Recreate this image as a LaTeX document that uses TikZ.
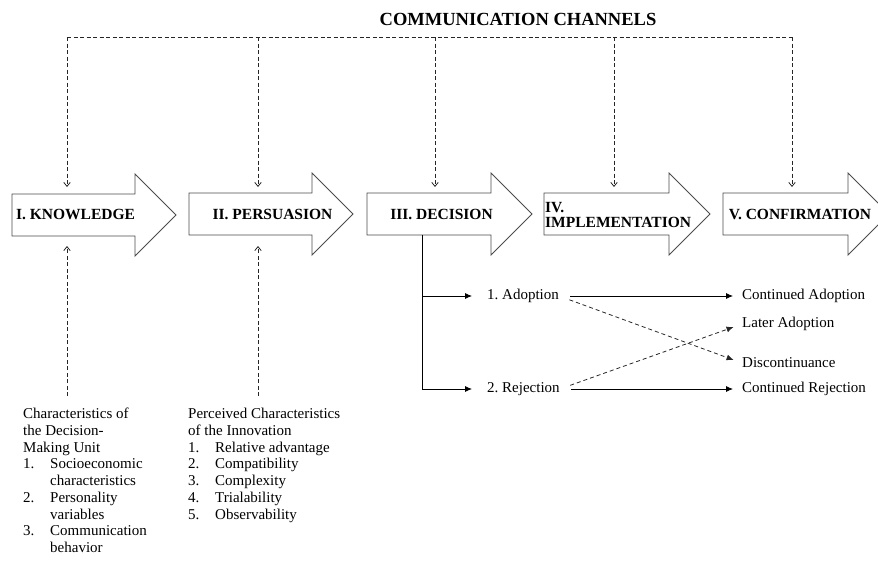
\documentclass[tikz,border=0pt]{standalone}
\usepackage{fontspec}
\setmainfont{Liberation Serif}
\usetikzlibrary{arrows.meta}
\frenchspacing
\newcommand\blockarr[3]{%
  \draw[arrowbox] (#1,#3-21) -- (#2-41,#3-21) -- (#2-41,#3-41) -- (#2,#3)
    -- (#2-41,#3+41) -- (#2-41,#3+21) -- (#1,#3+21) -- cycle;}
\begin{document}
\frenchspacing
\begin{tikzpicture}[x=1pt,y=-1pt,
  arrowbox/.style={draw=black!70, line width=0.9pt, fill=white},
  lbl/.style={font=\fontsize{15.5}{15}\selectfont\bfseries, inner sep=0pt},
  txt/.style={font=\fontsize{15}{16.7}\selectfont, inner sep=0pt},
  chan/.style={draw=black!85, dash pattern=on 4pt off 2.5pt, line width=0.8pt},
  chanarr/.style={chan, -{Straight Barb[length=4pt,width=6.5pt]}},
  flow/.style={draw=black, line width=0.8pt, -{Latex[length=7pt,width=6pt]}},
  alt/.style={draw=black!85, dash pattern=on 4pt off 3pt, line width=0.8pt, -{Latex[length=7pt,width=6pt]}}
]
\useasboundingbox (0,0) rectangle (878,571);

% title
\node[font=\fontsize{18.5}{20}\selectfont\bfseries, inner sep=0pt] (title) at (518,19) {COMMUNICATION CHANNELS};

% stage arrows
\blockarr{12}{176}{215}
\blockarr{189}{353}{214}
\blockarr{367}{532}{214}
\blockarr{544}{710}{214}
\blockarr{723}{889}{214}

\node[lbl] (k) at (75.5,214) {I. KNOWLEDGE};
\node[lbl] (p) at (272.5,214) {II. PERSUASION};
\node[lbl] (d) at (441.5,214) {III. DECISION};
\node[lbl, anchor=west, align=left, font=\fontsize{15.5}{15}\selectfont\bfseries] (im) at (545,214.5) {IV.\\IMPLEMENTATION};
\node[lbl] (cf) at (800,214) {V. CONFIRMATION};

% communication channels
\coordinate (t1) at (67,37);
\coordinate (t2) at (258,37);
\coordinate (t3) at (435,37);
\coordinate (t4) at (614,37);
\coordinate (t5) at (792,37);
\coordinate (e1) at (67,187);
\coordinate (e2) at (258,187);
\coordinate (e3) at (435,187);
\coordinate (e4) at (614,187);
\coordinate (e5) at (792,187);
\draw[chan] (t1) -- (t5);
\foreach \i in {1,...,5}{\draw[chanarr] (t\i) -- (e\i);}

% characteristics inputs
\coordinate (b1) at (67,396);
\coordinate (b2) at (258,396);
\coordinate (u1) at (67,246);
\coordinate (u2) at (258,246);
\draw[chanarr] (b1) -- (u1);
\draw[chanarr] (b2) -- (u2);

\node[txt, anchor=north west] (dmu) at (23,407) {%
\begin{tabular}{@{}p{27pt}@{}l@{}}
\multicolumn{2}{@{}l@{}}{Characteristics of}\\
\multicolumn{2}{@{}l@{}}{the Decision-}\\
\multicolumn{2}{@{}l@{}}{Making Unit}\\
1. & Socioeconomic\\
   & characteristics\\
2. & Personality\\
   & variables\\
3. & Communication\\
   & behavior
\end{tabular}};

\node[txt, anchor=north west] (pci) at (188,407) {%
\begin{tabular}{@{}p{27pt}@{}l@{}}
\multicolumn{2}{@{}l@{}}{Perceived Characteristics}\\
\multicolumn{2}{@{}l@{}}{of the Innovation}\\
1. & Relative advantage\\
2. & Compatibility\\
3. & Complexity\\
4. & Trialability\\
5. & Observability
\end{tabular}};

% decision outcomes
\node[txt, anchor=west] (ad) at (487,296) {1. Adoption};
\node[txt, anchor=west] (rej) at (487,389) {2. Rejection};
\node[txt, anchor=west] (ca) at (742,296) {Continued Adoption};
\node[txt, anchor=west] (la) at (742,324) {Later Adoption};
\node[txt, anchor=west] (dis) at (742,363) {Discontinuance};
\node[txt, anchor=west] (cr) at (742,389) {Continued Rejection};

\coordinate (dv) at (422,235);
\draw[flow, shorten >=15pt] (dv) |- (ad.west);
\draw[flow, shorten >=15pt] (dv) |- (rej.west);
\draw[flow, shorten <=11pt, shorten >=9pt] (ad.east) -- (ca.west);
\draw[flow, shorten <=11pt, shorten >=9pt] (rej.east) -- (cr.west);
\draw[alt, shorten <=11pt, shorten >=9pt] (ad.east) -- (dis.west);
\draw[alt, shorten <=11pt, shorten >=9pt] (rej.east) -- (la.west);
\end{tikzpicture}
\end{document}
